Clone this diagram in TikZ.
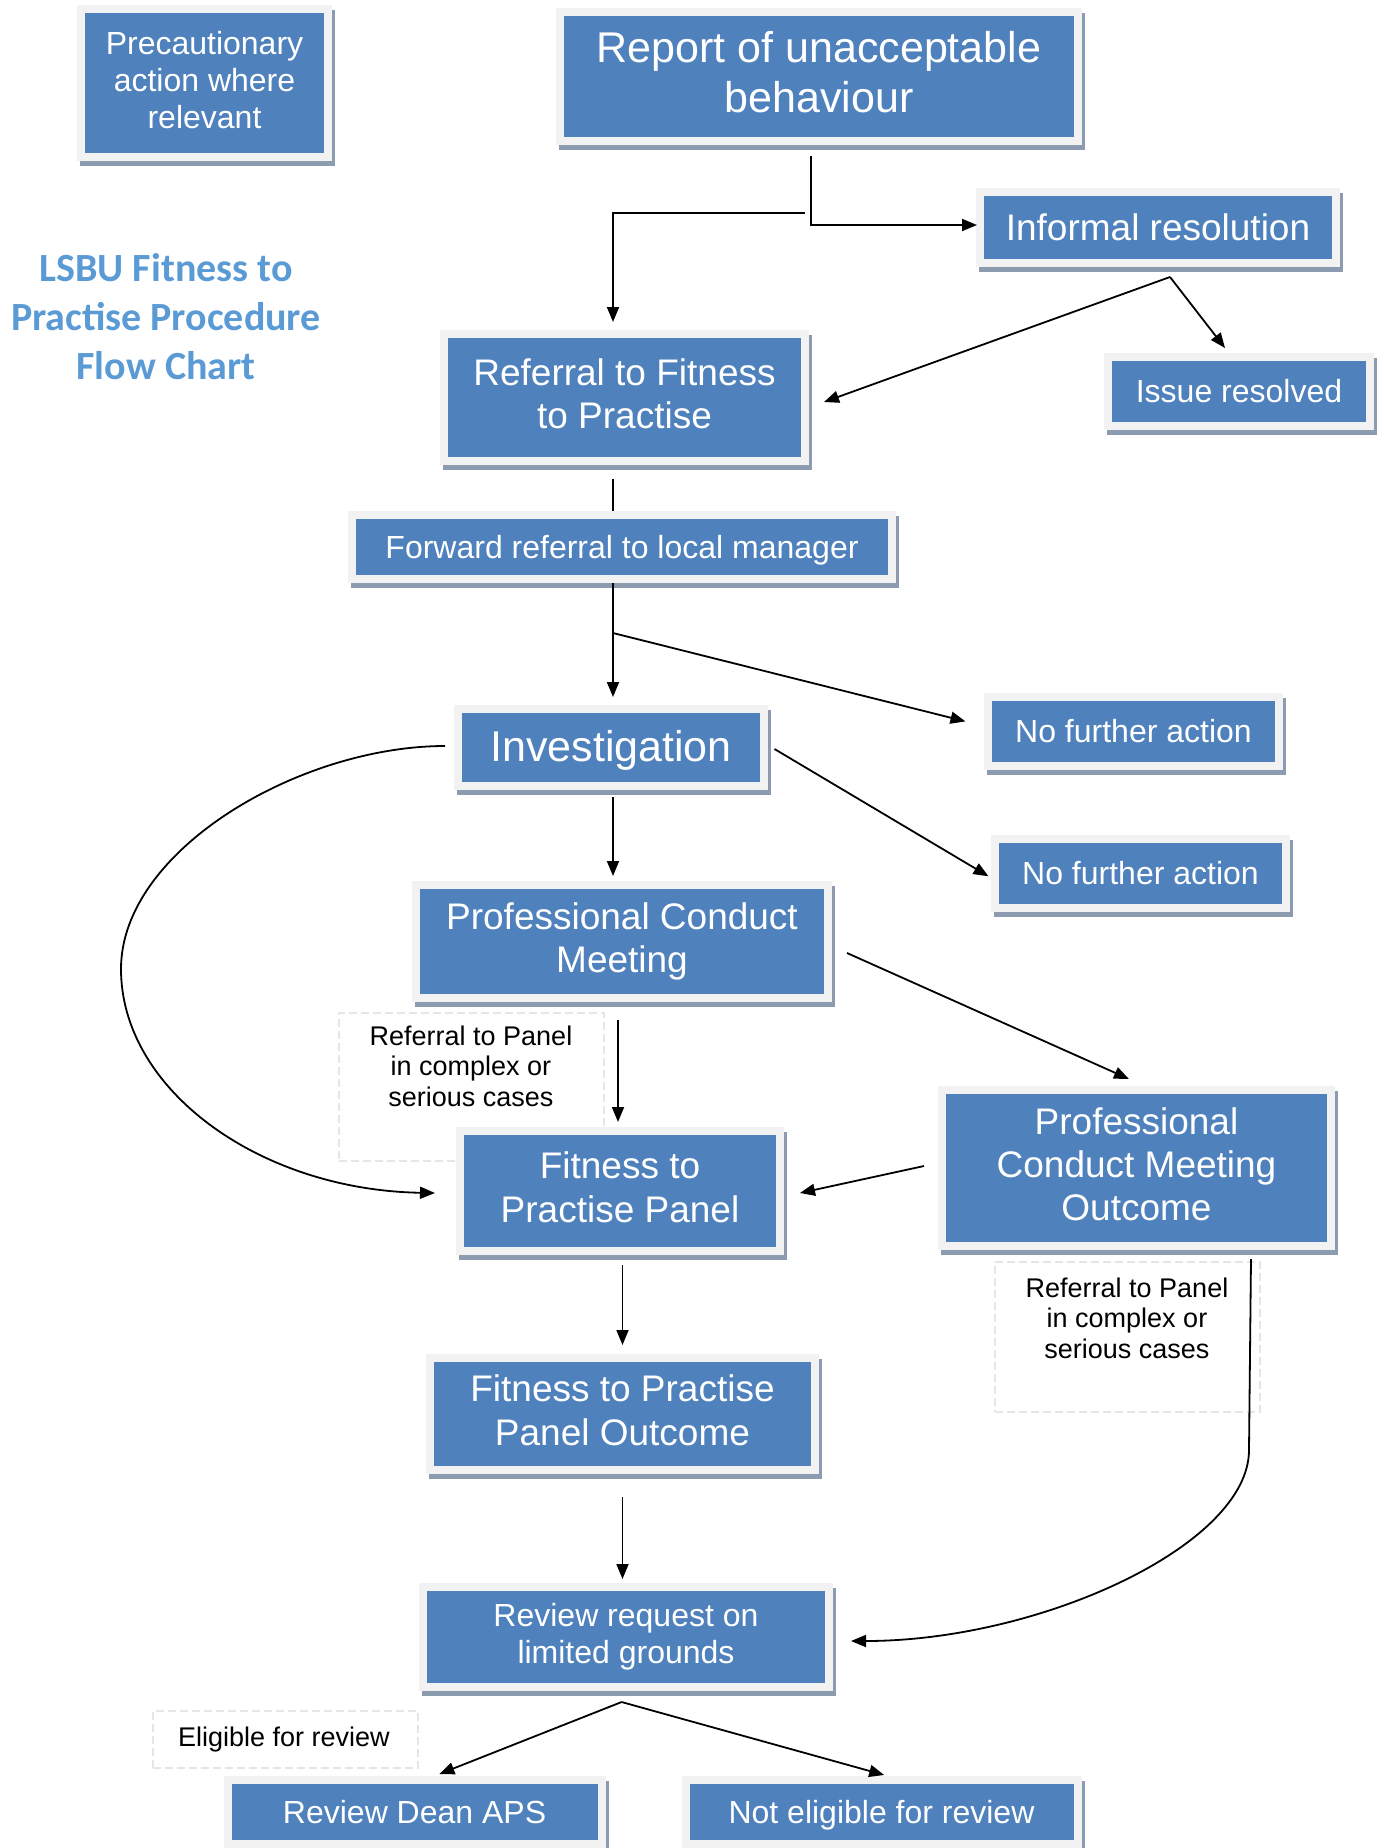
\documentclass[tikz,border=0pt]{standalone}
\usepackage{fontspec}
\setmainfont{Liberation Sans}
\newfontfamily\titlefont{Carlito}
\usetikzlibrary{arrows.meta,shadows}
\definecolor{boxblue}{HTML}{4F81BD}
\definecolor{framegray}{HTML}{F2F2F2}
\definecolor{shadowgray}{HTML}{8C9BB0}
\definecolor{titleblue}{HTML}{5B9BD5}
\definecolor{dashgray}{HTML}{E6E6E6}
\newcommand\linestrut{\vrule height .905em depth .212em width 0pt}
\tikzset{
  stagebox/.style={rectangle, fill=boxblue, draw=framegray, line width=8pt,
    text=white, align=center, inner sep=0pt,
    execute at begin node=\linestrut, execute at end node=\linestrut,
    drop shadow={shadow xshift=3pt, shadow yshift=-5pt, fill=shadowgray,
      draw=shadowgray, line width=8pt, opacity=1}},
  notebox/.style={rectangle, draw=dashgray, line width=2pt, dash pattern=on 8pt off 4pt},
  notetext/.style={align=center, font=\fontsize{27}{30.5}\selectfont,
    execute at begin node=\linestrut, execute at end node=\linestrut},
  bigtext/.style={font=\fontsize{43}{50}\selectfont},
  midtext/.style={font=\fontsize{37}{43.5}\selectfont},
  smalltext/.style={font=\fontsize{32}{37}\selectfont},
  flow/.style={line width=1.8pt, -{Triangle[length=15pt,width=12pt]}},
  plain/.style={line width=1.8pt}
}
\begin{document}
\begin{tikzpicture}[x=1pt,y=-1pt]
  \path[fill=white, use as bounding box] (0,0) rectangle (1386,1848);
  % title
  \node[align=center, text=titleblue, font=\titlefont\bfseries\fontsize{40}{49}\selectfont] (title) at (166,317)
    {LSBU Fitness to\\Practise Procedure\\Flow Chart};
  % notes
  \node[notebox, minimum width=265pt, minimum height=148pt] (notea) at (471,1087) {};
  \node[notetext] at (471,1069) {Referral to Panel\\in complex or\\serious cases};
  \node[notebox, minimum width=265pt, minimum height=150pt] (noteb) at (1127,1337) {};
  \node[notetext] at (1127,1321) {Referral to Panel\\in complex or\\serious cases};
  \node[notebox, minimum width=265pt, minimum height=57pt] (notec) at (285,1739) {};
  \node[notetext] at (284,1737) {Eligible for review};
  % stages
  \node[stagebox, smalltext, minimum width=247pt, minimum height=148pt] (precaution) at (204.5,83)
    {Precautionary\\action where\\relevant};
  \node[stagebox, bigtext, minimum width=518pt, minimum height=129pt] (report) at (819,76)
    {Report of unacceptable\\behaviour};
  \node[stagebox, midtext, minimum width=356pt, minimum height=71pt] (informal) at (1158,227.5)
    {Informal resolution};
  \node[stagebox, smalltext, minimum width=262pt, minimum height=69pt] (resolved) at (1239,391.5)
    {Issue resolved};
  \node[stagebox, midtext, minimum width=361pt, minimum height=127pt] (referral) at (624.5,397.5)
    {Referral to Fitness\\to Practise};
  \node[stagebox, smalltext, minimum width=540pt, minimum height=64pt] (forward) at (622,547)
    {Forward referral to local manager};
  \node[stagebox, bigtext, minimum width=306pt, minimum height=77pt] (investigation) at (611,747)
    {Investigation};
  \node[stagebox, smalltext, minimum width=291pt, minimum height=69pt] (nfaone) at (1133.5,731.5)
    {No further action};
  \node[stagebox, smalltext, minimum width=291pt, minimum height=69pt] (nfatwo) at (1140.5,873.3)
    {No further action};
  \node[stagebox, midtext, minimum width=412pt, minimum height=113pt] (pcm) at (622,941.5)
    {Professional Conduct\\Meeting};
  \node[stagebox, midtext, minimum width=320pt, minimum height=120pt] (panel) at (620,1191)
    {Fitness to\\Practise Panel};
  \node[stagebox, midtext, minimum width=389pt, minimum height=156pt] (pcmoutcome) at (1136.5,1168)
    {Professional\\Conduct Meeting\\Outcome};
  \node[stagebox, midtext, minimum width=385pt, minimum height=112pt] (paneloutcome) at (622.5,1414)
    {Fitness to Practise\\Panel Outcome};
  \node[stagebox, smalltext, minimum width=406pt, minimum height=100pt] (review) at (626,1637)
    {Review request on\\limited grounds};
  \node[stagebox, smalltext, minimum width=374pt, minimum height=64pt] (dean) at (414.6,1812)
    {Review Dean APS};
  \node[stagebox, smalltext, minimum width=392pt, minimum height=64pt] (noteligible) at (881.5,1812)
    {Not eligible for review};
  % connector ends
  \coordinate (reportout) at (811,156);
  \coordinate (informalin) at (977,225);
  \coordinate (referralfrom) at (805,213);
  \coordinate (referralin) at (613,322);
  \coordinate (informalout) at (1170,277);
  \coordinate (resolvedin) at (1225,348);
  \coordinate (referralback) at (824,402);
  \coordinate (referralout) at (613,479);
  \coordinate (forwardin) at (613,511);
  \coordinate (forwardout) at (613,583);
  \coordinate (investigationin) at (613,697);
  \coordinate (branch) at (613,633);
  \coordinate (nfaonein) at (965.5,721.4);
  \coordinate (investigationright) at (774.5,749);
  \coordinate (nfatwoin) at (988.5,876.3);
  \coordinate (investigationout) at (613,797);
  \coordinate (pcmin) at (613,876);
  \coordinate (investigationleft) at (445,746);
  \coordinate (panelleft) at (435,1193);
  \coordinate (pcmout) at (618,1020);
  \coordinate (panelin) at (618,1122);
  \coordinate (pcmright) at (847,953);
  \coordinate (pcmoutcomein) at (1129,1079);
  \coordinate (pcmoutcomeleft) at (924,1166);
  \coordinate (panelright) at (800,1193);
  \coordinate (panelout) at (622.5,1265);
  \coordinate (paneloutcomein) at (622.5,1345);
  \coordinate (pcmoutcomeout) at (1251,1259);
  \coordinate (bend) at (1249,1450);
  \coordinate (reviewright) at (851,1641);
  \coordinate (paneloutcomeout) at (622.5,1497);
  \coordinate (reviewin) at (622.5,1579);
  \coordinate (reviewout) at (621.6,1702);
  \coordinate (deanin) at (439.4,1774);
  \coordinate (noteligiblein) at (884.2,1775);
  % connectors
  \draw[flow] (reportout) |- (informalin);
  \draw[flow] (referralfrom) -| (referralin);
  \draw[flow] (informalout) -- (resolvedin);
  \draw[flow] (informalout) -- (referralback);
  \draw[plain] (referralout) -- (forwardin);
  \draw[flow] (forwardout) -- (investigationin);
  \draw[flow] (branch) -- (nfaonein);
  \draw[flow] (investigationright) -- (nfatwoin);
  \draw[flow] (investigationout) -- (pcmin);
  \draw[flow] (investigationleft) .. controls (300,746) and (121,850) .. (121,969)
    .. controls (121,1090) and (260,1190) .. (panelleft);
  \draw[flow] (pcmout) -- (panelin);
  \draw[flow] (pcmright) -- (pcmoutcomein);
  \draw[flow] (pcmoutcomeleft) -- (panelright);
  \draw[flow] (panelout) -- (paneloutcomein);
  \draw[flow] (paneloutcomeout) -- (reviewin);
  \draw[flow] (pcmoutcomeout) -- (bend) .. controls (1249,1545) and (1040,1641) .. (reviewright);
  \draw[flow] (reviewout) -- (deanin);
  \draw[flow] (reviewout) -- (noteligiblein);
\end{tikzpicture}
\end{document}
